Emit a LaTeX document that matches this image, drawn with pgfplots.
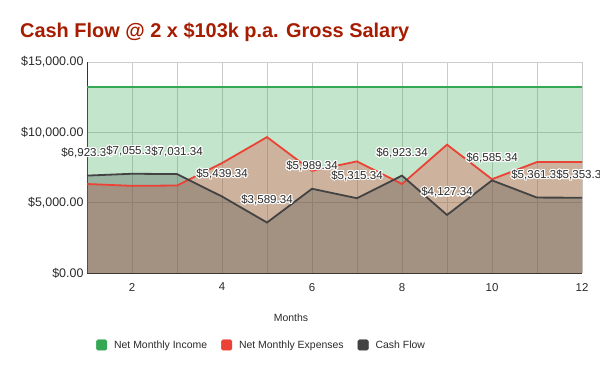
\documentclass[border=0pt]{standalone}
\usepackage{pgfplots}
\pgfplotsset{compat=1.18}
\usepackage{fontspec}
\setmainfont{Liberation Sans}
\usepackage{contour}
\contourlength{1.1pt}
\definecolor{incol}{HTML}{34A853}
\definecolor{excol}{HTML}{EA4335}
\definecolor{cfcol}{HTML}{434343}
\definecolor{titlecol}{HTML}{A61C00}
\definecolor{gridcol}{HTML}{CCCCCC}
\definecolor{txtcol}{HTML}{2A2A2A}
\begin{document}
\begin{tikzpicture}
\begin{axis}[name=ax, scale only axis, width=495bp, height=211bp,
  xmin=1, xmax=12, ymin=0, ymax=15000, clip=false,
  scaled y ticks=false,
  xtick={2,4,6,8,10,12}, xticklabels={2,4,6,8,10,12},
  minor xtick={1,3,5,7,9,11},
  ytick={0,5000,10000,15000},
  yticklabels={{\$0.00},{\$5,000.00},{\$10,000.00},{\$15,000.00}},
  axis x line*=bottom, axis y line*=left,
  axis line style={-, draw=black!80, line width=0.9bp},
  xmajorgrids, xminorgrids, ymajorgrids,
  grid style={gridcol, line width=0.8bp},
  minor grid style={gridcol, line width=0.8bp},
  major tick length=0pt, minor tick length=0pt,
  yticklabel style={font=\fontsize{12.5}{14}\selectfont, text=txtcol},
  xticklabel style={font=\fontsize{11.5}{13}\selectfont, text=txtcol, yshift=-6.5bp},
  xlabel={Months},
  xlabel style={at={(rel axis cs:0.412,-0.2133)}, anchor=center, font=\fontsize{10.5}{12}\selectfont, text=txtcol},
  legend columns=3,
  legend style={draw=none, fill=none, at={(rel axis cs:0.0182,-0.3412)}, anchor=west,
    font=\fontsize{10.5}{12}\selectfont, text=txtcol, inner sep=0pt,
    nodes={inner sep=0pt},
    column sep=7bp, /tikz/every even column/.append style={column sep=14bp}},
]
% areas
\addplot[forget plot, draw=none, fill=incol, fill opacity=0.3] coordinates {
(1,13250.34) (2,13250.34) (3,13250.34) (4,13250.34) (5,13250.34) (6,13250.34)
(7,13250.34) (8,13250.34) (9,13250.34) (10,13250.34) (11,13250.34) (12,13250.34)} \closedcycle;
\addplot[forget plot, draw=none, fill=excol, fill opacity=0.3] coordinates {
(1,6327) (2,6195) (3,6219) (4,7811) (5,9661) (6,7261)
(7,7935) (8,6327) (9,9123) (10,6665) (11,7889) (12,7897)} \closedcycle;
\addplot[forget plot, draw=none, fill=cfcol, fill opacity=0.3] coordinates {
(1,6923.34) (2,7055.34) (3,7031.34) (4,5439.34) (5,3589.34) (6,5989.34)
(7,5315.34) (8,6923.34) (9,4127.34) (10,6585.34) (11,5361.34) (12,5353.34)} \closedcycle;
% lines
\addplot[forget plot, incol, line width=1.8bp] coordinates {
(1,13250.34) (2,13250.34) (3,13250.34) (4,13250.34) (5,13250.34) (6,13250.34)
(7,13250.34) (8,13250.34) (9,13250.34) (10,13250.34) (11,13250.34) (12,13250.34)};
\addplot[forget plot, excol, line width=1.8bp] coordinates {
(1,6327) (2,6195) (3,6219) (4,7811) (5,9661) (6,7261)
(7,7935) (8,6327) (9,9123) (10,6665) (11,7889) (12,7897)};
\addplot[forget plot, cfcol, line width=1.8bp, point meta=explicit symbolic,
  nodes near coords={\contour{white}{\pgfplotspointmeta}},
  every node near coord/.append style={anchor=center, yshift=22bp, font=\fontsize{11.6}{13}\selectfont, text=txtcol}]
 coordinates {
(1,6923.34) [\$6,923.34] (2,7055.34) [\$7,055.34] (3,7031.34) [\$7,031.34]
(4,5439.34) [\$5,439.34] (5,3589.34) [\$3,589.34] (6,5989.34) [\$5,989.34]
(7,5315.34) [\$5,315.34] (8,6923.34) [\$6,923.34] (9,4127.34) [\$4,127.34]
(10,6585.34) [\$6,585.34] (11,5361.34) [\$5,361.34] (12,5353.34) [\$5,353.34]};
% legend
\addlegendimage{legend image code/.code={\fill[incol,rounded corners=1.5bp] (0bp,-5.25bp) rectangle (10.5bp,5.25bp);}}
\addlegendentry{Net Monthly Income}
\addlegendimage{legend image code/.code={\fill[excol,rounded corners=1.5bp] (0bp,-5.25bp) rectangle (10.5bp,5.25bp);}}
\addlegendentry{Net Monthly Expenses}
\addlegendimage{legend image code/.code={\fill[cfcol,rounded corners=1.5bp] (0bp,-5.25bp) rectangle (10.5bp,5.25bp);}}
\addlegendentry{Cash Flow}
\node[anchor=base west, font=\bfseries\fontsize{20}{24}\selectfont, text=titlecol, inner sep=0pt]
  at (rel axis cs:-0.1354,1.1161) {Cash Flow @ 2 x \$103k p.a. Gross Salary};
\end{axis}
\pgfresetboundingbox
\path[use as bounding box] (ax.south west) ++(-87bp,-98bp) rectangle ++(600bp,371bp);
\end{tikzpicture}
\end{document}
